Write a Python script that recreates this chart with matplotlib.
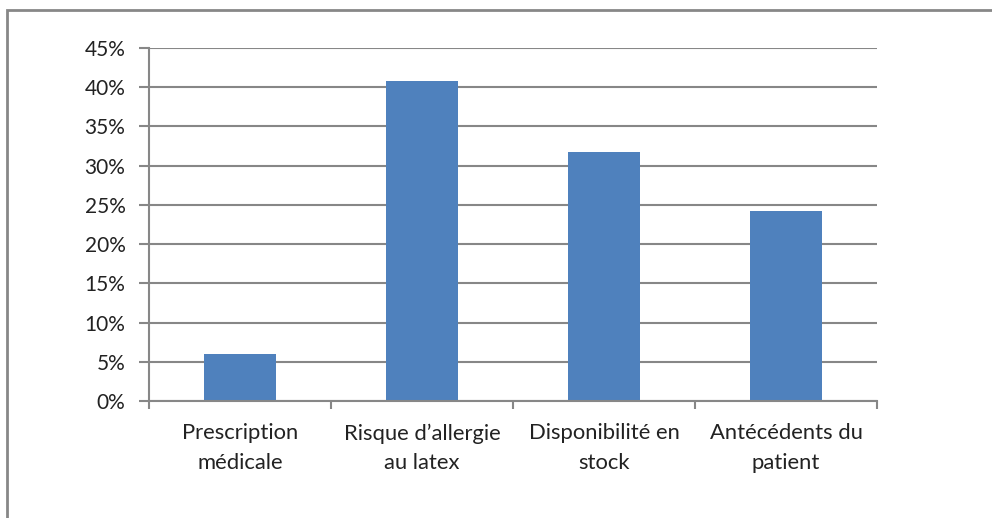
import matplotlib.pyplot as plt
from matplotlib.patches import Rectangle
from matplotlib.ticker import FixedLocator, PercentFormatter

categories = ["Prescription\nmédicale", "Risque d\u2019allergie\nau latex",
              "Disponibilité en\nstock", "Antécédents du\npatient"]
values = [6.0, 40.8, 31.8, 24.2]
yticks = [0, 5, 10, 15, 20, 25, 30, 35, 40, 45]

plt.rcParams['font.family'] = ['Lato', 'DejaVu Sans']
grey = '#878787'
txt = '#222222'

fig = plt.figure(figsize=(9.92, 5.18), dpi=100)
ax = fig.add_axes([149/992, 1-401/518, 728/992, 353/518])

# outer chart frame (runs off the right and bottom edges)
fig.patches.append(Rectangle((7/992, -0.5), 2.0, 1.5 - 10/518, transform=fig.transFigure,
                             fill=False, edgecolor=grey, linewidth=2, zorder=0))

x = list(range(len(categories)))
ax.bar(x, values, width=0.4, color='#4F81BD', zorder=3)

ax.set_xlim(-0.5, len(categories) - 0.5)
ax.set_ylim(0, 45)
ax.set_yticks(yticks)
ax.yaxis.set_major_formatter(PercentFormatter(decimals=0))
ax.grid(axis='y', color=grey, linewidth=1.5, zorder=0)

ax.set_xticks(x)
ax.set_xticklabels(categories, fontsize=15.8, color=txt, linespacing=1.6)
ax.xaxis.set_minor_locator(FixedLocator([i - 0.5 for i in range(len(categories) + 1)]))
ax.tick_params(axis='x', which='major', length=0, pad=16)
ax.tick_params(axis='x', which='minor', length=6, width=1.5, color=grey, direction='out')
ax.tick_params(axis='y', length=7, width=1.5, color=grey, labelsize=15,
               labelcolor=txt, pad=10)

for side in ['top', 'right']:
    ax.spines[side].set_visible(False)
for side in ['left', 'bottom']:
    ax.spines[side].set_color(grey)
    ax.spines[side].set_linewidth(1.5)
    ax.spines[side].set_zorder(4)

fig.savefig("out.png", dpi=100)
